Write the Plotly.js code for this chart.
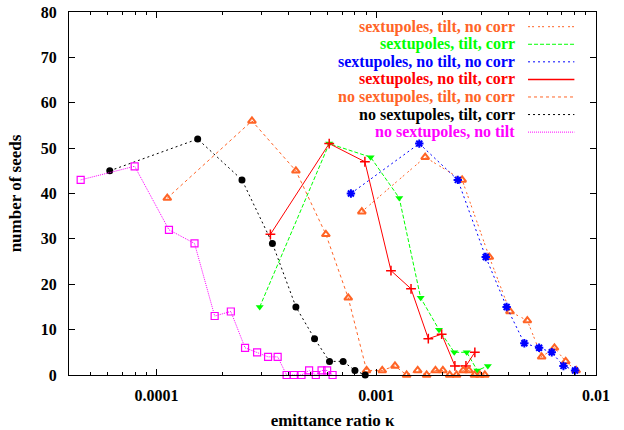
<!DOCTYPE html>
<html>
<head>
<meta charset="utf-8">
<script src="https://cdn.plot.ly/plotly-3.0.1.min.js"></script>
<style>html,body{margin:0;padding:0;background:#fff;}</style>
</head>
<body>
<div id="chart" style="width:624px;height:430px;"></div>
<script>
// --- data ---
const seriesNames = [
  "sextupoles, tilt, no corr",
  "sextupoles, tilt, corr",
  "sextupoles, no tilt, no corr",
  "sextupoles, no tilt, corr",
  "no sextupoles, tilt, no corr",
  "no sextupoles, tilt, corr",
  "no sextupoles, no tilt"
];

const sTiltNoCorrX = [8.6e-4, 1.67e-3, 2.46e-3, 3.27e-3, 4.06e-3, 4.87e-3, 5.66e-3, 6.47e-3, 7.28e-3, 8.12e-3];
const sTiltNoCorrY = [36, 48, 43, 26, 14, 12, 4, 6, 3, 1];

const sTiltCorrX = [2.95e-4, 6.11e-4, 9.43e-4, 1.273e-3, 1.593e-3, 1.93e-3, 2.265e-3, 2.58e-3, 2.884e-3, 3.22e-3];
const sTiltCorrY = [15, 51, 48, 39, 17, 10, 5, 5, 1, 2];

const sNoTiltNoCorrX = [7.67e-4, 1.57e-3, 2.35e-3, 3.15e-3, 3.92e-3, 4.72e-3, 5.51e-3, 6.29e-3, 7.11e-3, 8.03e-3];
const sNoTiltNoCorrY = [40, 51, 43, 26, 15, 7, 6, 5, 2, 1];

const sNoTiltCorrX = [3.30e-4, 6.11e-4, 8.88e-4, 1.167e-3, 1.44e-3, 1.726e-3, 1.985e-3, 2.28e-3, 2.56e-3, 2.81e-3];
const sNoTiltCorrY = [31, 51, 47, 23, 19, 8, 9, 2, 2, 5];

const nsTiltNoCorrX = [1.12e-4, 2.72e-4, 4.31e-4, 5.90e-4, 7.46e-4, 9.04e-4, 1.065e-3, 1.217e-3, 1.375e-3, 1.544e-3,
                       1.696e-3, 1.86e-3, 2.01e-3, 2.16e-3, 2.32e-3, 2.49e-3, 2.64e-3, 2.80e-3, 2.96e-3, 3.12e-3];
const nsTiltNoCorrY = [39, 56, 45, 31, 17, 1, 1, 2, 0, 1, 0, 1, 1, 0, 0, 1, 1, 0, 0, 0];

const nsTiltCorrX = [6.13e-5, 1.54e-4, 2.45e-4, 3.37e-4, 4.31e-4, 5.24e-4, 6.13e-4, 7.07e-4, 8.0e-4, 8.91e-4];
const nsTiltCorrY = [45, 52, 43, 29, 15, 8, 3, 3, 1, 0];

const nsNoTiltX = [4.52e-5, 7.96e-5, 1.14e-4, 1.49e-4, 1.84e-4, 2.18e-4, 2.53e-4, 2.87e-4, 3.22e-4, 3.56e-4,
                   3.91e-4, 4.22e-4, 4.57e-4, 4.95e-4, 5.31e-4, 5.64e-4, 5.98e-4, 6.33e-4];
const nsNoTiltY = [43, 46, 32, 29, 13, 14, 6, 5, 4, 4, 0, 0, 0, 1, 0, 1, 1, 0];

const xTickVals = [1e-4, 1e-3, 1e-2];
const xTickText = ["0.0001", "0.001", "0.01"];

// --- styles ---
const ORANGE = "#ff6426";
const styles = [
  {color: ORANGE, dash: "2px,2px,2px,4px", symbol: "triangle-up-open", size: 7, mlw: 2},
  {color: "#00ff00", dash: "4px,2px", symbol: "triangle-down", size: 7, mlw: 0},
  {color: "#0000ff", dash: "2px,3px", symbol: "asterisk-open", size: 7, mlw: 2},
  {color: "#ff0000", dash: "solid", symbol: "cross-thin-open", size: 7, mlw: 1.5},
  {color: ORANGE, dash: "3px,3px", symbol: "triangle-up-open", size: 7, mlw: 2},
  {color: "#000000", dash: "2px,3px", symbol: "circle", size: 7, mlw: 0},
  {color: "#ff00ff", dash: "1px,1px", symbol: "square-open", size: 7, mlw: 1.2}
];
const xs = [sTiltNoCorrX, sTiltCorrX, sNoTiltNoCorrX, sNoTiltCorrX, nsTiltNoCorrX, nsTiltCorrX, nsNoTiltX];
const ys = [sTiltNoCorrY, sTiltCorrY, sNoTiltNoCorrY, sNoTiltCorrY, nsTiltNoCorrY, nsTiltCorrY, nsNoTiltY];

const traces = xs.map((x, i) => ({
  type: "scatter", mode: "lines+markers", name: seriesNames[i],
  x: x, y: ys[i], cliponaxis: false, showlegend: false,
  line: {color: styles[i].color, width: 1, dash: styles[i].dash},
  marker: {symbol: styles[i].symbol, size: styles[i].size, color: styles[i].color,
           line: {color: styles[i].color, width: styles[i].mlw}}
}));

// legend (text right-aligned, sample line on the right, like gnuplot)
const FONT = "Liberation Serif";
const annotations = [];
const shapes = [];
const ly0 = 0.9595, lstep = 0.0484;
seriesNames.forEach((n, i) => {
  const yy = ly0 - i * lstep;
  annotations.push({
    xref: "paper", yref: "paper", x: 0.8476, y: yy, xanchor: "right", yanchor: "middle",
    text: "<b>" + n + "</b>", showarrow: false, borderpad: 0,
    font: {family: FONT, size: 16, color: styles[i].color}
  });
  shapes.push({
    type: "line", xref: "paper", yref: "paper", x0: 0.871, x1: 0.959, y0: yy, y1: yy,
    line: {color: styles[i].color, width: styles[i].dash === "solid" ? 1.5 : 1, dash: styles[i].dash}
  });
});

const layout = {
  width: 624, height: 430,
  margin: {l: 69, r: 28, t: 12, b: 55},
  paper_bgcolor: "#fff", plot_bgcolor: "#fff",
  font: {family: FONT, size: 16, color: "#000"},
  showlegend: false,
  xaxis: {
    type: "log", range: [Math.log10(4e-5), -2],
    tickmode: "array", tickvals: xTickVals, ticktext: xTickText,
    ticks: "inside", ticklen: 6, tickwidth: 1, tickcolor: "#000",
    minor: {dtick: "D1", ticks: "inside", ticklen: 3, tickwidth: 1, tickcolor: "#000", showgrid: false},
    showline: true, linecolor: "#000", linewidth: 1, mirror: "allticks",
    showgrid: false, zeroline: false,
    tickfont: {family: FONT, size: 16, color: "#000", weight: "bold"},
    ticklabelstandoff: 6,
    title: {text: "<b>emittance ratio κ</b>", font: {family: FONT, size: 17, color: "#000"}, standoff: 14}
  },
  yaxis: {
    range: [0, 80], dtick: 10, tick0: 0,
    ticks: "inside", ticklen: 6, tickwidth: 1, tickcolor: "#000",
    showline: true, linecolor: "#000", linewidth: 1, mirror: "allticks",
    showgrid: false, zeroline: false,
    tickfont: {family: FONT, size: 16, color: "#000", weight: "bold"},
    ticklabelstandoff: 8,
    title: {text: "<b>number of seeds</b>", font: {family: FONT, size: 17, color: "#000"}, standoff: 14}
  },
  annotations: annotations,
  shapes: shapes
};

Plotly.newPlot("chart", traces, layout, {staticPlot: true, displayModeBar: false});
</script>
</body>
</html>
